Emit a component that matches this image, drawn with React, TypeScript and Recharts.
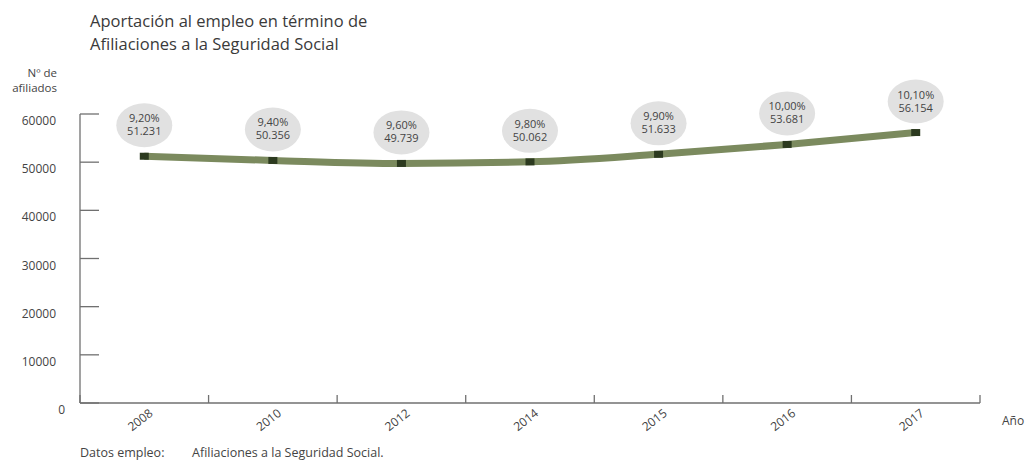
import { LabelList, Line, LineChart, XAxis, YAxis } from 'recharts'

const years = ['2008', '2010', '2012', '2014', '2015', '2016', '2017']
const afiliados = [51231, 50356, 49739, 50062, 51633, 53681, 56154]
const aportacion = ['9,20%', '9,40%', '9,60%', '9,80%', '9,90%', '10,00%', '10,10%']
const yTicks = [0, 10000, 20000, 30000, 40000, 50000, 60000]

const data = years.map((year, i) => ({ year, afiliados: afiliados[i], pct: aportacion[i] }))

const W = 1029
const H = 462
const margin = { top: 114, right: 49, bottom: 0, left: 0 }
const yAxisWidth = 80
const band = (W - yAxisWidth - margin.right) / years.length

const font = "'Open Sans', sans-serif"
const textColor = '#444'
const axisColor = '#707070'
const lineColor = '#7b8a5e'
const markerColor = '#2c3a1f'
const bubbleColor = '#e1e1e1'

// miles con punto: 51231 -> 51.231
const fmt = (n: number) => String(n).replace(/\B(?=(\d{3})+(?!\d))/g, '.')

function YearTick({ x, y, payload, index }: any) {
  const last = index === years.length - 1
  return (
    <g>
      <line x1={x - band / 2} x2={x - band / 2} y1={y} y2={y - 8} stroke={axisColor} strokeWidth={1.3} />
      {last && <line x1={x + band / 2} x2={x + band / 2} y1={y} y2={y - 8} stroke={axisColor} strokeWidth={1.3} />}
      <text
        x={x - 4}
        y={y + 21}
        transform={`rotate(-38 ${x - 4} ${y + 17})`}
        textAnchor="middle"
        fontSize={12}
        fontFamily={font}
        fill={textColor}
      >
        {payload.value}
      </text>
    </g>
  )
}

function CountTick({ x, y, payload }: any) {
  const zero = payload.value === 0
  return (
    <g>
      <line x1={x} x2={x + 19} y1={y} y2={y} stroke={axisColor} strokeWidth={1.3} />
      <text
        x={zero ? x - 15 : x - 24}
        y={y + 11}
        textAnchor="end"
        fontSize={12}
        fontFamily={font}
        fill={textColor}
      >
        {payload.value}
      </text>
    </g>
  )
}

function Bubble(props: any) {
  const { x, y, index } = props
  const cy = y - 31
  return (
    <g>
      <ellipse cx={x} cy={cy} rx={28} ry={22} fill={bubbleColor} />
      <text x={x} y={cy - 3} textAnchor="middle" fontSize={11} fontFamily={font} fill={textColor}>
        {aportacion[index]}
      </text>
      <text x={x} y={cy + 10} textAnchor="middle" fontSize={11} fontFamily={font} fill={textColor}>
        {fmt(afiliados[index])}
      </text>
    </g>
  )
}

function Marker({ cx, cy, index }: any) {
  return <rect key={index} x={cx - 4.5} y={cy - 3.5} width={9} height={7} fill={markerColor} />
}

export default function App() {
  return (
    <div style={{ position: 'absolute', left: 0, top: 0, width: W, height: H, background: '#fff' }}>
      <LineChart width={W} height={H} data={data} margin={margin}>
        <XAxis
          dataKey="year"
          scale="band"
          interval={0}
          height={59}
          tickSize={0}
          tickMargin={0}
          tickLine={false}
          axisLine={{ stroke: axisColor, strokeWidth: 1.3 }}
          tick={<YearTick />}
        />
        <YAxis
          width={yAxisWidth}
          domain={[0, 60000]}
          ticks={yTicks}
          interval={0}
          tickSize={0}
          tickMargin={0}
          tickLine={false}
          axisLine={{ stroke: axisColor, strokeWidth: 1.3 }}
          tick={<CountTick />}
        />
        <Line
          type="monotone"
          dataKey="afiliados"
          stroke={lineColor}
          strokeWidth={7}
          dot={Marker}
          activeDot={false}
          isAnimationActive={false}
        >
          <LabelList dataKey="pct" content={Bubble} />
        </Line>
      </LineChart>
      <svg
        width={W}
        height={H}
        style={{ position: 'absolute', left: 0, top: 0, pointerEvents: 'none' }}
        fontFamily={font}
        fill={textColor}
      >
        <text x={90} y={27} fontSize={16.5} fill="#3a3a3a">Aportación al empleo en término de</text>
        <text x={90} y={50} fontSize={16.5} fill="#3a3a3a">Afiliaciones a la Seguridad Social</text>
        <text x={57} y={77} fontSize={11.5} textAnchor="end">Nº de</text>
        <text x={57} y={92} fontSize={11.5} textAnchor="end">afiliados</text>
        <text x={1002} y={425} fontSize={12}>Año</text>
        <text x={80} y={457} fontSize={12.5}>Datos empleo:</text>
        <text x={192} y={457} fontSize={12.5}>Afiliaciones a la Seguridad Social.</text>
      </svg>
    </div>
  )
}
